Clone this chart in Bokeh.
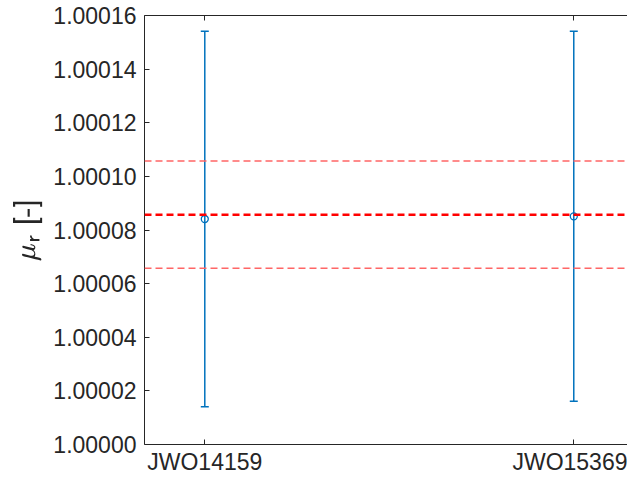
from bokeh.plotting import figure
from bokeh.models import (Range1d, FixedTicker, NumeralTickFormatter, LinearAxis,
                          Whisker, TeeHead, ColumnDataSource, Span)
from bokeh.embed import file_html
from bokeh.resources import INLINE

# ---- data ----
samples = ["JWO14159", "JWO15369"]
sample_pos = [1, 2]
mu_r = [1.0000841, 1.0000851]
mu_err = [0.0000700, 0.0000690]
mean_mu = 1.0000857
band = 0.0000200
y_ticks = [1.00000, 1.00002, 1.00004, 1.00006, 1.00008, 1.00010, 1.00012, 1.00014, 1.00016]

BLUE = "#0072BD"
TXT = "#262626"
FONT = "Liberation Sans"

p = figure(width=627, height=482, output_backend="svg", toolbar_location=None,
           x_range=Range1d(0.8366, 2.1456), y_range=Range1d(1.0, 1.00016),
           min_border_left=144, min_border_right=0, min_border_top=15,
           min_border_bottom=38)
p.outline_line_color = None
p.grid.visible = False
p.background_fill_color = "white"

# x axis
p.xaxis.ticker = FixedTicker(ticks=sample_pos)
p.xaxis.major_label_overrides = {pos: s for pos, s in zip(sample_pos, samples)}
# y axis
p.yaxis.ticker = FixedTicker(ticks=y_ticks)
p.yaxis.formatter = NumeralTickFormatter(format="0.00000")
for ax in (p.xaxis, p.yaxis):
    ax.axis_line_color = TXT
    ax.axis_line_width = 1
    ax.major_tick_line_color = TXT
    ax.major_tick_in = 5
    ax.major_tick_out = 0
    ax.minor_tick_line_color = None
    ax.major_label_text_font = FONT
    ax.major_label_text_font_size = "23px"
    ax.major_label_text_color = TXT
p.yaxis.major_label_standoff = 8
p.xaxis.major_label_standoff = 4
p.yaxis.axis_label = r"$$\mu_{\mathsf{r}}\;\mathsf{[\text{-}]}$$"
p.yaxis.axis_label_text_font_size = "24px"
p.yaxis.axis_label_text_color = TXT
p.yaxis.axis_label_standoff = 8

top = LinearAxis(ticker=FixedTicker(ticks=sample_pos), axis_line_color=TXT,
                 major_tick_line_color=TXT, major_tick_in=5, major_tick_out=0,
                 minor_tick_line_color=None, major_label_text_font_size="8px",
                 major_label_overrides={pos: "" for pos in sample_pos},
                 major_label_standoff=0)
p.add_layout(top, "above")

src = ColumnDataSource(dict(x=sample_pos, y=mu_r,
                            upper=[m + e for m, e in zip(mu_r, mu_err)],
                            lower=[m - e for m, e in zip(mu_r, mu_err)]))
w = Whisker(base="x", upper="upper", lower="lower", source=src, dimension="height",
            line_color=BLUE, line_width=1.5,
            upper_head=TeeHead(size=8, line_color=BLUE, line_width=1.5),
            lower_head=TeeHead(size=8, line_color=BLUE, line_width=1.5))
p.add_layout(w)

for loc, lw, col in [(mean_mu + band, 1.5, "#FF6666"), (mean_mu - band, 1.5, "#FF6666"),
                     (mean_mu, 2.5, "#FF0000")]:
    p.add_layout(Span(location=loc, dimension="width", line_color=col,
                      line_width=lw, line_dash="7 4"))

p.scatter("x", "y", source=src, marker="circle", size=7, fill_color=None,
          line_color=BLUE, line_width=1.3)

open("out.html", "w").write(file_html(p, INLINE))
